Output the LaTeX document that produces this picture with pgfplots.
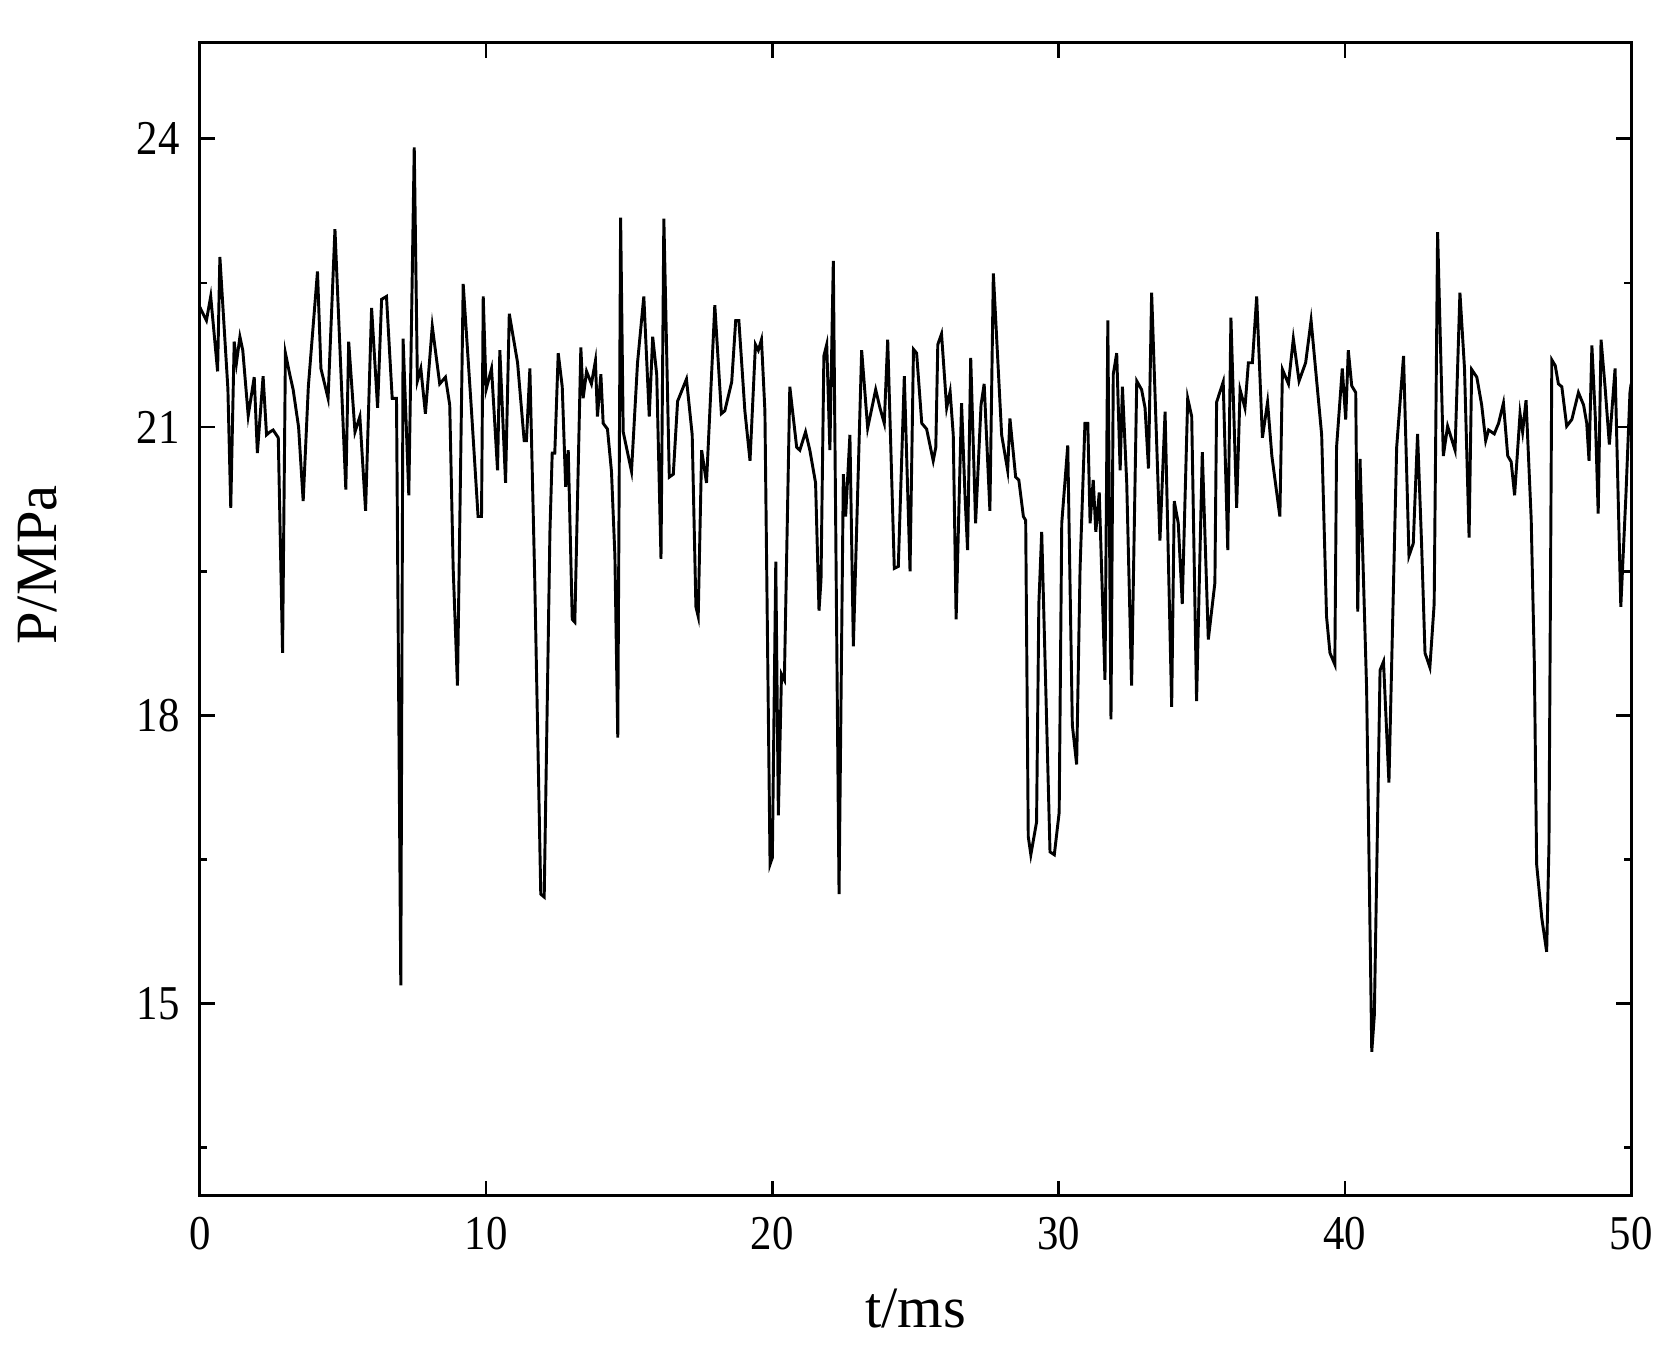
\documentclass[border=0pt]{standalone}
\usepackage{fontspec}
\setmainfont{Liberation Serif}
\newfontfamily\tickfont{Liberation Serif}[FakeStretch=0.88]
\usepackage{pgfplots}
\pgfplotsset{compat=1.18}

\begin{document}
\begin{tikzpicture}
\begin{axis}[
    scale only axis,
    width=318pt, height=256.2pt,
    xmin=0, xmax=50, ymin=13, ymax=25,
    xtick={0,10,...,50},
    ytick={15,18,21,24},
    minor ytick={13.5,16.5,19.5,22.5},
    tick align=inside, tick pos=both,
    major tick length=3.3pt, minor tick length=1.6pt,
    every tick/.style={black, line width=0.6pt},
    axis line style={line width=0.7pt},
    /pgf/number format/assume math mode=true,
    ticklabel style={font=\tickfont\fontsize{10.8}{12}\selectfont},
    yticklabel style={xshift=-1pt},
    xticklabel style={yshift=-1.2pt},
    xlabel={t/ms}, ylabel={P/MPa},
    every axis x label/.style={at={(axis description cs:0.5,-0.0668)}, anchor=north,
        font=\fontsize{13}{15}\selectfont},
    every axis y label/.style={at={(axis description cs:-0.0884,0.547)}, rotate=90, anchor=south,
        font=\fontsize{13}{15}\selectfont},
]
% pressure trace
\addplot[black, line width=0.65pt] coordinates {
(0.00,22.25) (0.06,22.21) (0.23,22.11) (0.38,22.36) (0.62,21.58) (0.70,22.77)
(0.98,21.40) (1.08,20.16) (1.20,21.89) (1.28,21.67) (1.40,21.94) (1.50,21.80)
(1.69,21.12) (1.90,21.52) (2.01,20.73) (2.21,21.53) (2.33,20.92) (2.45,20.95)
(2.56,20.97) (2.74,20.89) (2.89,18.65) (2.99,21.77) (3.14,21.55) (3.26,21.39)
(3.45,21.00) (3.61,20.23) (3.79,21.42) (4.11,22.62) (4.23,21.61) (4.48,21.30)
(4.72,23.06) (5.10,20.35) (5.20,21.89) (5.42,20.95) (5.59,21.11) (5.79,20.13)
(6.00,22.24) (6.21,21.20) (6.35,22.33) (6.52,22.36) (6.72,21.30) (6.87,21.30)
(7.02,15.19) (7.10,21.92) (7.30,20.29) (7.49,23.91) (7.60,21.48) (7.72,21.61)
(7.88,21.14) (8.12,22.05) (8.38,21.45) (8.58,21.52) (8.73,21.23) (8.85,19.53)
(9.00,18.31) (9.20,22.49) (9.49,21.17) (9.72,20.07) (9.84,20.07) (9.90,22.36)
(10.00,21.39) (10.19,21.61) (10.40,20.55) (10.48,21.80) (10.68,20.42) (10.81,22.18)
(11.10,21.67) (11.33,20.86) (11.41,20.86) (11.53,21.61) (11.70,19.41) (11.91,16.14)
(12.03,16.11) (12.23,19.91) (12.31,20.73) (12.40,20.73) (12.52,21.77) (12.66,21.42)
(12.78,20.38) (12.87,20.76) (13.01,19.00) (13.10,18.97) (13.31,21.83) (13.39,21.30)
(13.51,21.58) (13.68,21.45) (13.82,21.69) (13.89,21.11) (14.01,21.55) (14.09,21.04)
(14.24,20.98) (14.38,20.54) (14.50,19.66) (14.60,17.77) (14.70,23.18) (14.79,20.95)
(15.08,20.54) (15.29,21.67) (15.51,22.36) (15.70,21.11) (15.82,21.94) (15.96,21.55)
(16.11,19.63) (16.21,23.17) (16.40,20.48) (16.54,20.51) (16.69,21.27) (17.00,21.50)
(17.20,20.92) (17.33,19.13) (17.41,19.03) (17.53,20.76) (17.70,20.42) (17.99,22.27)
(18.22,21.14) (18.34,21.17) (18.58,21.47) (18.72,22.11) (18.83,22.11) (19.04,21.17)
(19.22,20.65) (19.41,21.86) (19.51,21.80) (19.62,21.91) (19.74,21.17) (19.92,16.45)
(20.00,16.52) (20.12,19.60) (20.21,16.96) (20.32,18.43) (20.42,18.37) (20.61,21.42)
(20.85,20.79) (20.96,20.76) (21.16,20.95) (21.31,20.76) (21.51,20.42) (21.63,19.09)
(21.70,19.41) (21.80,21.74) (21.90,21.86) (22.01,20.76) (22.13,22.73) (22.33,16.14)
(22.48,20.51) (22.56,20.07) (22.71,20.92) (22.83,18.72) (23.12,21.80) (23.33,20.99)
(23.61,21.39) (23.76,21.20) (23.91,21.04) (24.03,21.91) (24.26,19.53) (24.40,19.55)
(24.61,21.53) (24.81,19.50) (24.93,21.81) (25.04,21.77) (25.22,21.04) (25.39,20.98)
(25.62,20.65) (25.71,20.79) (25.78,21.86) (25.91,21.97) (26.09,21.20) (26.21,21.37)
(26.32,20.92) (26.42,19.00) (26.61,21.25) (26.73,20.29) (26.82,19.72) (26.93,21.72)
(27.10,20.00) (27.29,21.23) (27.40,21.45) (27.60,20.13) (27.72,22.60) (28.01,20.92)
(28.22,20.55) (28.30,21.09) (28.50,20.48) (28.61,20.45) (28.77,20.07) (28.85,20.03)
(28.94,16.74) (29.03,16.55) (29.23,16.89) (29.31,19.16) (29.41,19.91) (29.70,16.58)
(29.85,16.55) (30.02,16.99) (30.11,20.00) (30.32,20.81) (30.48,17.90) (30.63,17.49)
(30.75,19.53) (30.92,21.04) (31.02,21.04) (31.10,20.00) (31.21,20.45) (31.30,19.91)
(31.42,20.32) (31.62,18.37) (31.72,22.11) (31.83,17.96) (31.91,21.55) (32.03,21.77)
(32.15,20.55) (32.23,21.42) (32.38,20.42) (32.55,18.31) (32.73,21.48) (32.90,21.39)
(33.02,21.20) (33.14,20.57) (33.25,22.40) (33.54,19.82) (33.72,21.16) (33.95,18.09)
(34.04,20.23) (34.18,20.00) (34.32,19.16) (34.51,21.30) (34.65,21.11) (34.82,18.15)
(35.02,20.74) (35.23,18.79) (35.46,19.38) (35.52,21.26) (35.75,21.47) (35.91,19.72)
(36.02,22.14) (36.22,20.16) (36.34,21.39) (36.51,21.20) (36.63,21.67) (36.77,21.67)
(36.92,22.36) (37.12,20.89) (37.30,21.26) (37.45,20.70) (37.73,20.07) (37.82,21.60)
(38.03,21.45) (38.20,21.92) (38.40,21.48) (38.63,21.67) (38.82,22.11) (39.19,20.92)
(39.36,19.03) (39.48,18.65) (39.65,18.53) (39.71,20.79) (39.91,21.61) (40.03,21.08)
(40.12,21.80) (40.24,21.43) (40.38,21.36) (40.45,19.08) (40.53,20.67) (40.76,18.28)
(40.94,14.50) (41.03,14.88) (41.23,18.47) (41.35,18.56) (41.54,17.30) (41.81,20.79)
(42.05,21.74) (42.24,19.66) (42.39,19.79) (42.54,20.93) (42.68,19.79) (42.80,18.65)
(42.97,18.50) (43.12,19.16) (43.24,23.03) (43.44,20.70) (43.59,21.01) (43.85,20.76)
(44.02,22.40) (44.18,21.61) (44.34,19.85) (44.43,21.60) (44.61,21.52) (44.78,21.23)
(44.92,20.86) (45.02,20.97) (45.22,20.93) (45.37,21.04) (45.54,21.25) (45.69,20.70)
(45.81,20.64) (45.93,20.29) (46.12,21.14) (46.21,20.95) (46.33,21.28) (46.51,20.04)
(46.62,18.53) (46.70,16.45) (46.88,15.89) (47.05,15.54) (47.13,16.64) (47.23,21.70)
(47.35,21.64) (47.46,21.45) (47.58,21.42) (47.75,21.01) (47.93,21.08) (48.16,21.36)
(48.34,21.23) (48.45,21.04) (48.53,20.65) (48.63,21.85) (48.75,21.10) (48.85,20.10)
(48.95,21.91) (49.09,21.42) (49.24,20.82) (49.44,21.61) (49.64,19.13) (49.82,20.30)
(49.96,21.36) (50.00,21.45)
};
\end{axis}
\path ([shift={(-44.4pt,-34.3pt)}]current axis.south west) rectangle ([shift={(10.2pt,9.5pt)}]current axis.north east);
\end{tikzpicture}
\end{document}
